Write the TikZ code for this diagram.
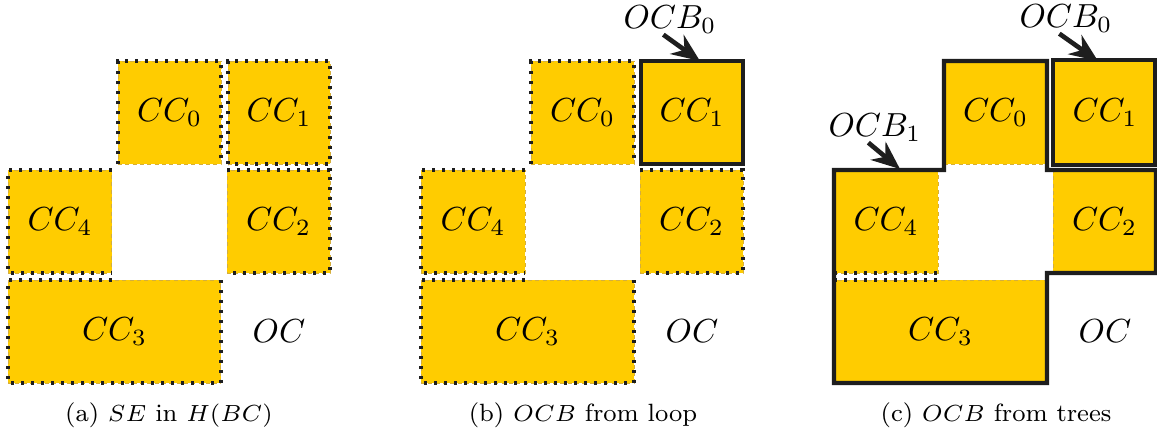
\documentclass[tikz,border=0pt]{standalone}
\usetikzlibrary{arrows.meta,calc}
\definecolor{ccyellow}{HTML}{FFCC00}
\definecolor{ccedge}{HTML}{D4AE3C}
\definecolor{ink}{HTML}{1E1E1E}
\tikzset{
 cell/.style={rectangle, inner sep=0pt, outer sep=0pt, fill=ccyellow, draw=ccedge, line width=0.3pt, dash pattern=on 1.2pt off 1pt, font=\fontsize{10}{12}\selectfont},
 plain/.style={inner sep=0pt, outer sep=0pt, font=\fontsize{10}{12}\selectfont},
 dotb/.style={draw=ink, line width=1pt, dash pattern=on 1pt off 2pt, line cap=butt},
 ocb/.style={draw=ink, line width=1.25pt, line join=miter},
 arr/.style={draw=ink, line width=1.4pt, -{Stealth[length=8.5pt,width=7pt]}},
 lbl/.style={inner sep=0pt, outer sep=0.5pt, anchor=base, font=\fontsize{10}{12}\selectfont},
 captext/.style={inner sep=0pt, anchor=base, font=\fontsize{7.5}{9}\selectfont},
}
\newcommand{\mycells}[1]{%
 \node[cell, minimum width=30.9pt, minimum height=30.9pt] (#10) at (169.5,112.5) {$CC_0$};
 \node[cell, minimum width=30.6pt, minimum height=30.9pt] (#11) at (279,112.5) {$CC_1$};
 \node[cell, minimum width=31.2pt, minimum height=30.9pt] (#14) at (60,221.5) {$CC_4$};
 \node[cell, minimum width=30.9pt, minimum height=30.9pt] (#12) at (278.5,221.5) {$CC_2$};
 \node[cell, minimum width=63.9pt, minimum height=30.9pt] (#13) at (114.5,331.5) {$CC_3$};
 \node[plain] (#1oc) at (279,331.5) {$OC$};
}
\newcommand{\mydotsides}[1]{%
 \draw[dotb] (#10.south west) -- (#10.north west) -- (#10.north east) -- (#10.south east);
 \draw[dotb] (#14.north east) -- (#14.north west) -- (#14.south west) -- (#14.south east);
 \draw[dotb] (#12.north west) -- (#12.north east) -- (#12.south east) -- (#12.south west);
 \draw[dotb] (#13.north west -| #14.north east) -- (#13.north west) -- (#13.south west) -- (#13.south east) -- (#13.north east);
}
\begin{document}
\begin{tikzpicture}[x=0.3pt,y=-0.3pt]
\useasboundingbox (0,0) rectangle (1157,432);
% ---------- panel (a)
\begin{scope}
 \mycells{a}
 \mydotsides{a}
 \draw[dotb] (a1.south west) rectangle (a1.north east);
\end{scope}
\node[captext] (capa) at (169,421) {(a) $SE$ in $H(BC)$};
% ---------- panel (b)
\begin{scope}[shift={(413,0)}]
 \mycells{b}
 \mydotsides{b}
 \draw[ocb] (b1.south west) rectangle (b1.north east);
 \node[lbl] (lb0) at (257,28) {$OCB_0$};
 \coordinate (tb0) at (287,61);
 \draw[arr] ([xshift=-2pt]lb0.south) -- (tb0);
\end{scope}
\node[captext] (capb) at (583,421) {(b) $OCB$ from loop};
% ---------- panel (c)
\begin{scope}[shift={(826,0)}]
 \mycells{c}
 \draw[dotb] (c4.south west) -- (c4.south east);
 \draw[dotb] (c3.north west) -- (c3.north west -| c4.south east);
 \draw[ocb] (c0.north west) -- (c0.north east) -- (c0.north east |- c2.north west)
   -- (c2.north east) -- (c2.south east) -- (c3.north east |- c2.south east)
   -- (c3.south east) -- (c3.south west) -- (c4.north west)
   -- (c0.south west |- c4.north west) -- cycle;
 \draw[ocb] ([xshift=-0.3pt,yshift=-0.3pt]c1.south west) rectangle ([xshift=-0.3pt,yshift=0.3pt]c1.north east);
 \node[lbl] (lc0) at (240,27) {$OCB_0$};
 \coordinate (tc0) at (272,61);
 \draw[arr] ([xshift=-2pt]lc0.south) -- (tc0);
 \node[lbl] (lc1) at (49,136) {$OCB_1$};
 \coordinate (tc1) at (74,169);
 \draw[arr] ([xshift=-2pt]lc1.south) -- (tc1);
\end{scope}
\node[captext] (capc) at (996,421) {(c) $OCB$ from trees};
\end{tikzpicture}
\end{document}
